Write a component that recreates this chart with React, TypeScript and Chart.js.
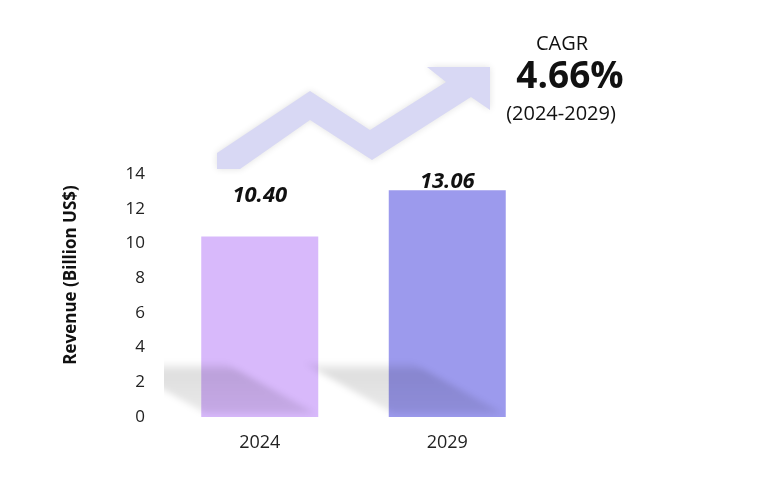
import React, { useEffect, useRef } from "react";
import { Chart, registerables } from "chart.js";

Chart.register(...registerables);

const categories = ["2024", "2029"];
const revenue = [10.4, 13.06];
const valueLabels = ["10.40", "13.06"];
const barColors = ["#d8b9fb", "#9c9aed"];
const yTicks = [0, 2, 4, 6, 8, 10, 12, 14];
const cagrTitle = "CAGR";
const cagrValue = "4.66%";
const cagrPeriod = "(2024-2029)";
const yTitle = "Revenue (Billion US$)";

const FONT = "'Open Sans', 'Liberation Sans', sans-serif";

const decorPlugin = {
  id: "decor",
  beforeDatasetsDraw(chart: any) {
    const ctx = chart.ctx;
    ctx.save();
    // trend arrow
    ctx.shadowColor = "rgba(0,0,0,0.12)";
    ctx.shadowBlur = 7;
    ctx.fillStyle = "#d8d8f4";
    ctx.beginPath();
    const pts = [
      [217, 153], [310, 91], [370, 130], [446, 82], [427, 67], [490, 67],
      [490, 110], [471, 97], [372, 160], [310, 120], [240, 169], [217, 169],
    ];
    pts.forEach((p, i) => (i === 0 ? ctx.moveTo(p[0], p[1]) : ctx.lineTo(p[0], p[1])));
    ctx.closePath();
    ctx.fill();
    ctx.restore();

    // CAGR text
    ctx.save();
    ctx.fillStyle = "#111";
    ctx.textAlign = "center";
    ctx.textBaseline = "middle";
    ctx.font = `20px ${FONT}`;
    ctx.fillText(cagrTitle, 562, 44);
    ctx.font = `bold 37px ${FONT}`;
    ctx.fillText(cagrValue, 570, 77);
    ctx.font = `20px ${FONT}`;
    ctx.fillText(cagrPeriod, 561, 114);

    // y title
    ctx.translate(71, 275);
    ctx.rotate(-Math.PI / 2);
    ctx.font = `bold 17px ${FONT}`;
    ctx.fillText(yTitle, 0, 0);
    ctx.restore();
  },
  afterDatasetsDraw(chart: any) {
    const ctx = chart.ctx;
    const meta = chart.getDatasetMeta(0);
    const area = chart.chartArea;
    const zeroY = chart.scales.y.getPixelForValue(0);
    // floor shadow
    ctx.save();
    ctx.beginPath();
    ctx.rect(area.left - 2, area.top, area.right - area.left + 20, zeroY - area.top);
    ctx.clip();
    ctx.filter = "blur(3px)";
    meta.data.forEach((bar: any) => {
      const left = bar.x - bar.width / 2;
      const w = bar.width;
      const g = ctx.createLinearGradient(0, zeroY - 56, 0, zeroY);
      g.addColorStop(0, "rgba(0,0,0,0)");
      g.addColorStop(0.2, "rgba(0,0,0,0.13)");
      g.addColorStop(1, "rgba(0,0,0,0.08)");
      ctx.fillStyle = g;
      ctx.beginPath();
      ctx.moveTo(left - 0.73 * w, zeroY - 54);
      ctx.lineTo(left + 0.2 * w, zeroY - 54);
      ctx.lineTo(left + 0.97 * w, zeroY - 4);
      ctx.lineTo(left + 0.03 * w, zeroY - 4);
      ctx.closePath();
      ctx.fill();
    });
    ctx.restore();

    // value labels
    const offsets = [41, 9];
    ctx.save();
    ctx.fillStyle = "#111";
    ctx.textAlign = "center";
    ctx.textBaseline = "middle";
    ctx.font = `italic bold 22px ${FONT}`;
    meta.data.forEach((bar: any, i: number) => {
      ctx.fillText(valueLabels[i], bar.x, bar.y - offsets[i]);
    });
    ctx.restore();
  },
};

export default function App() {
  const ref = useRef<HTMLCanvasElement>(null);
  useEffect(() => {
    const chart = new Chart(ref.current!, {
      type: "bar",
      data: {
        labels: categories,
        datasets: [
          {
            data: revenue,
            backgroundColor: barColors,
            borderWidth: 0,
            barPercentage: 0.624,
            categoryPercentage: 1,
          },
        ],
      },
      options: {
        animation: false,
        responsive: false,
        maintainAspectRatio: false,
        layout: { padding: { left: 0, top: 174, right: 227, bottom: 0 } },
        plugins: { legend: { display: false }, tooltip: { enabled: false } },
        scales: {
          x: {
            grid: { display: false, drawTicks: false },
            border: { display: false },
            ticks: { color: "#222", font: { family: FONT, size: 18 }, padding: 15 },
            afterFit: (s: any) => {
              s.height = 87;
            },
          },
          y: {
            min: 0,
            max: 14,
            afterBuildTicks: (s: any) => {
              s.ticks = yTicks.map((v) => ({ value: v }));
            },
            grid: { display: false, drawTicks: false },
            border: { display: false },
            ticks: { color: "#222", font: { family: FONT, size: 17 }, padding: 21 },
            afterFit: (s: any) => {
              s.width = 166;
            },
          },
        },
      },
      plugins: [decorPlugin],
    });
    return () => chart.destroy();
  }, []);
  return (
    <div style={{ position: "fixed", left: 0, top: 0, width: 768, height: 504, background: "#fff" }}>
      <canvas ref={ref} width={768} height={504} style={{ display: "block" }} />
    </div>
  );
}
